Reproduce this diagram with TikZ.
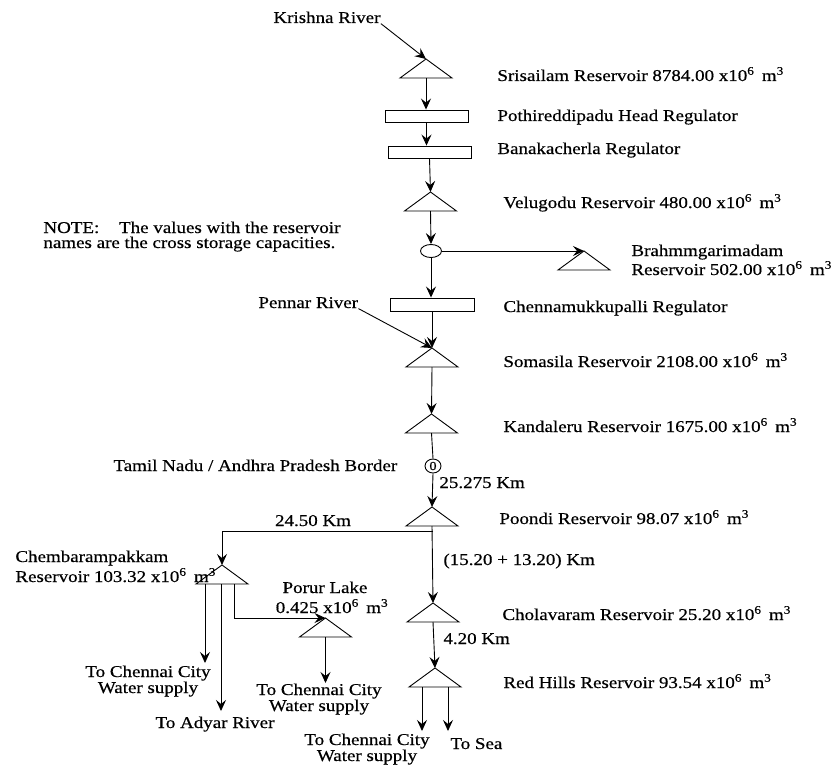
\documentclass[tikz,border=0pt]{standalone}
\usepackage{fontspec}
\setmainfont{Liberation Serif}[FakeStretch=1.15,FakeBold=0.5]
\usetikzlibrary{arrows.meta,shapes.geometric}
\newcommand{\resv}[3]{%
  \coordinate (#1-t) at (#2,#3);
  \coordinate (#1-b) at (#2,#3+19);
  \draw (#2-26,#3+19) -- (#2,#3) -- (#2+26,#3+19) -- cycle;}
\newcommand{\myvol}[1]{#1 x10\textsuperscript{6}\ \,m\textsuperscript{3}}
\begin{document}
\begin{tikzpicture}[x=1pt,y=-1pt, line width=0.9pt,
  flow/.style={-{Stealth[length=11pt,width=10pt,inset=4pt]}},
  regbox/.style={draw, rectangle, inner sep=0pt},
  lbl/.style={anchor=base west, inner sep=0pt},
  clbl/.style={anchor=base, inner sep=0pt},
  font=\fontsize{16.5}{18}\selectfont]
\useasboundingbox (0,0) rectangle (832,765);

% reservoirs (triangles)
\resv{sri}{426}{59}
\resv{vel}{430.5}{192}
\resv{bra}{584}{251}
\resv{som}{432}{348}
\resv{kan}{431.5}{414}
\resv{poo}{432}{507}
\resv{cho}{433}{603}
\resv{red}{435}{668}
\resv{che}{222}{565}
\resv{por}{325.5}{618}

% regulators and junctions
\node[regbox, minimum width=83pt, minimum height=12pt] (poth) at (426.5,116) {};
\node[regbox, minimum width=83pt, minimum height=12pt] (bana) at (429.5,152) {};
\node[regbox, minimum width=84pt, minimum height=13pt] (chen) at (432,304.5) {};
\node[draw, ellipse, minimum width=21pt, minimum height=13pt, inner sep=0pt] (junc) at (431,251) {};
\node[draw, ellipse, minimum width=16pt, minimum height=14pt, inner sep=0pt, font=\fontsize{12.5}{12}\selectfont] (border) at (433,466) {0};

% river sources
\node[lbl] (krishna) at (273,23) {Krishna River};
\node[lbl] (pennar) at (258,308) {Pennar River};

% free ends
\coordinate (split) at (433,531);
\coordinate (rcity) at (422,731);
\coordinate (rsea) at (448,731);
\coordinate (ccity) at (205,663);
\coordinate (cadyar) at (221,711);
\coordinate (cporur) at (234,618);
\coordinate (pcity) at (325.5,683);

% connectors
\draw[flow] (krishna.south east) -- (sri-t);
\draw[flow] (sri-b) -- (sri-b |- poth.north);
\draw[flow] (poth.south) -- (poth.south |- bana.north);
\draw[flow] (bana.south) -- (vel-t);
\draw[flow] (vel-b) -- (junc.north);
\draw[flow] (junc.east) -- (bra-t);
\draw[flow] (junc.south) -- (junc.south |- chen.north);
\draw[flow] (chen.south) -- (som-t);
\draw[flow] (pennar.south east) -- (som-t);
\draw[flow] (som-b) -- (kan-t);
\draw (kan-b) -- (border.north);
\draw[flow] (border.south) -- (poo-t);
\draw[flow] (poo-b) -- (cho-t);
\draw[flow] (split) -| (che-t);
\draw[flow] (cho-b) -- (red-t);
\draw[flow] (rcity |- red-b) -- (rcity);
\draw[flow] (rsea |- red-b) -- (rsea);
\draw[flow] (ccity |- che-b) -- (ccity);
\draw[flow] (cadyar |- che-b) -- (cadyar);
\draw[flow] (cporur |- che-b) -- (cporur) -- (por-t);
\draw[flow] (por-b) -- (pcity);

% right-hand labels
\node[lbl] (l-sri) at (497,81) {Srisailam Reservoir \myvol{8784.00}};
\node[lbl] (l-poth) at (497,121) {Pothireddipadu Head Regulator};
\node[lbl] (l-bana) at (497,154) {Banakacherla Regulator};
\node[lbl] (l-vel) at (503,208) {Velugodu Reservoir \myvol{480.00}};
\node[lbl] (l-bra1) at (631,256) {Brahmmgarimadam};
\node[lbl] (l-bra2) at (631,275) {Reservoir \myvol{502.00}};
\node[lbl] (l-chen) at (503,312) {Chennamukkupalli Regulator};
\node[lbl] (l-som) at (503,367) {Somasila Reservoir \myvol{2108.00}};
\node[lbl] (l-kan) at (503,432) {Kandaleru Reservoir \myvol{1675.00}};
\node[lbl] (l-poo) at (499,524) {Poondi Reservoir \myvol{98.07}};
\node[lbl] (l-cho) at (502,620) {Cholavaram Reservoir \myvol{25.20}};
\node[lbl] (l-red) at (503,688) {Red Hills Reservoir \myvol{93.54}};

% distances
\node[lbl] (d1) at (439,488) {25.275 Km};
\node[clbl] (d2) at (313,526) {24.50 Km};
\node[lbl] (d3) at (443,565) {(15.20 + 13.20) Km};
\node[lbl] (d4) at (443,644) {4.20 Km};

% other labels
\node[lbl] (l-border) at (113,471) {Tamil Nadu / Andhra Pradesh Border};
\node[lbl] (note1) at (43,233) {NOTE:\hspace{1.2em}The values with the reservoir};
\node[lbl] (note2) at (43,248) {names are the cross storage capacities.};
\node[lbl] (l-che1) at (15,562) {Chembarampakkam};
\node[lbl] (l-che2) at (15,582) {Reservoir \myvol{103.32}};
\node[clbl] (l-por1) at (325,593) {Porur Lake};
\node[clbl] (l-por2) at (332,613) {\myvol{0.425}};
\node[clbl] (o1a) at (148,677) {To Chennai City};
\node[clbl] (o1b) at (148,693) {Water supply};
\node[clbl] (o2) at (215,728) {To Adyar River};
\node[clbl] (o3a) at (319,695) {To Chennai City};
\node[clbl] (o3b) at (319,711) {Water supply};
\node[clbl] (o4a) at (367,745) {To Chennai City};
\node[clbl] (o4b) at (367,761) {Water supply};
\node[lbl] (o5) at (450,749) {To Sea};
\end{tikzpicture}
\end{document}
